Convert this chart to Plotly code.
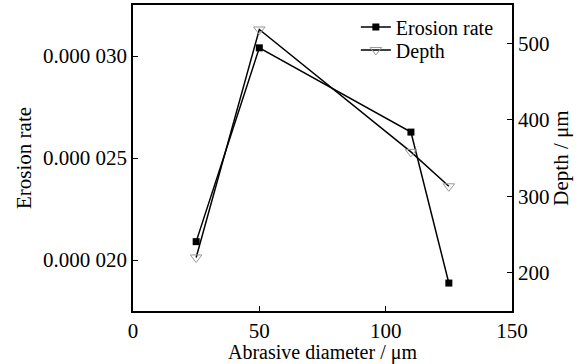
import plotly.graph_objects as go

diameter = [25, 50, 110, 125]
erosion_rate = [2.09e-5, 3.04e-5, 2.627e-5, 1.887e-5]
depth = [220, 518, 358, 313]

x_ticks = [0, 50, 100, 150]
y1_ticks = [2.0e-5, 2.5e-5, 3.0e-5]
y1_labels = ["0.000 020", "0.000 025", "0.000 030"]
y2_ticks = [200, 300, 400, 500]

font = "Liberation Serif"
fs = 21

fig = go.Figure()
fig.add_trace(go.Scatter(
    x=diameter, y=erosion_rate, name="Erosion rate", mode="lines+markers",
    line=dict(color="black", width=1.5), legend="legend",
    marker=dict(symbol="square", size=7, color="black"),
))
fig.add_trace(go.Scatter(
    x=diameter, y=depth, name="Depth", mode="lines+markers", yaxis="y2",
    line=dict(color="black", width=1.5), legend="legend2",
    marker=dict(symbol="triangle-down-open", size=10, color="#999999", line=dict(width=1)),
))

axis_common = dict(showgrid=False, zeroline=False, showline=True, linecolor="black",
                   linewidth=1.5, ticks="inside", ticklen=5, tickcolor="black",
                   automargin=False,
                   tickfont=dict(size=fs, color="black", family=font))

leg_common = dict(xanchor="left", yanchor="middle", bgcolor="rgba(0,0,0,0)",
                  font=dict(size=20, family=font), itemwidth=30)

fig.update_layout(
    width=579, height=364,
    margin=dict(l=133, r=67, t=5, b=53),
    paper_bgcolor="white", plot_bgcolor="white",
    font=dict(family=font, size=fs, color="black"),
    showlegend=True,
    legend=dict(x=0.588, y=0.928, **leg_common),
    legend2=dict(x=0.588, y=0.853, **leg_common),
    xaxis=dict(range=[0, 150], tickvals=x_ticks, mirror=True,
               title=dict(text="Abrasive diameter / μm", standoff=0, font=dict(size=20)),
               **axis_common),
    yaxis=dict(range=[1.75e-5, 3.25e-5], tickvals=y1_ticks, ticktext=y1_labels,
               title=dict(text="Erosion rate", standoff=6, font=dict(size=fs)),
               **axis_common),
    yaxis2=dict(range=[150, 550], tickvals=y2_ticks, overlaying="y", side="right",
                title=dict(text="Depth / μm", standoff=2, font=dict(size=fs)),
                **axis_common),
)

fig.write_html("out.html", config={"displayModeBar": False},
               post_script="document.body.style.margin='0';document.body.style.overflow='hidden';")
